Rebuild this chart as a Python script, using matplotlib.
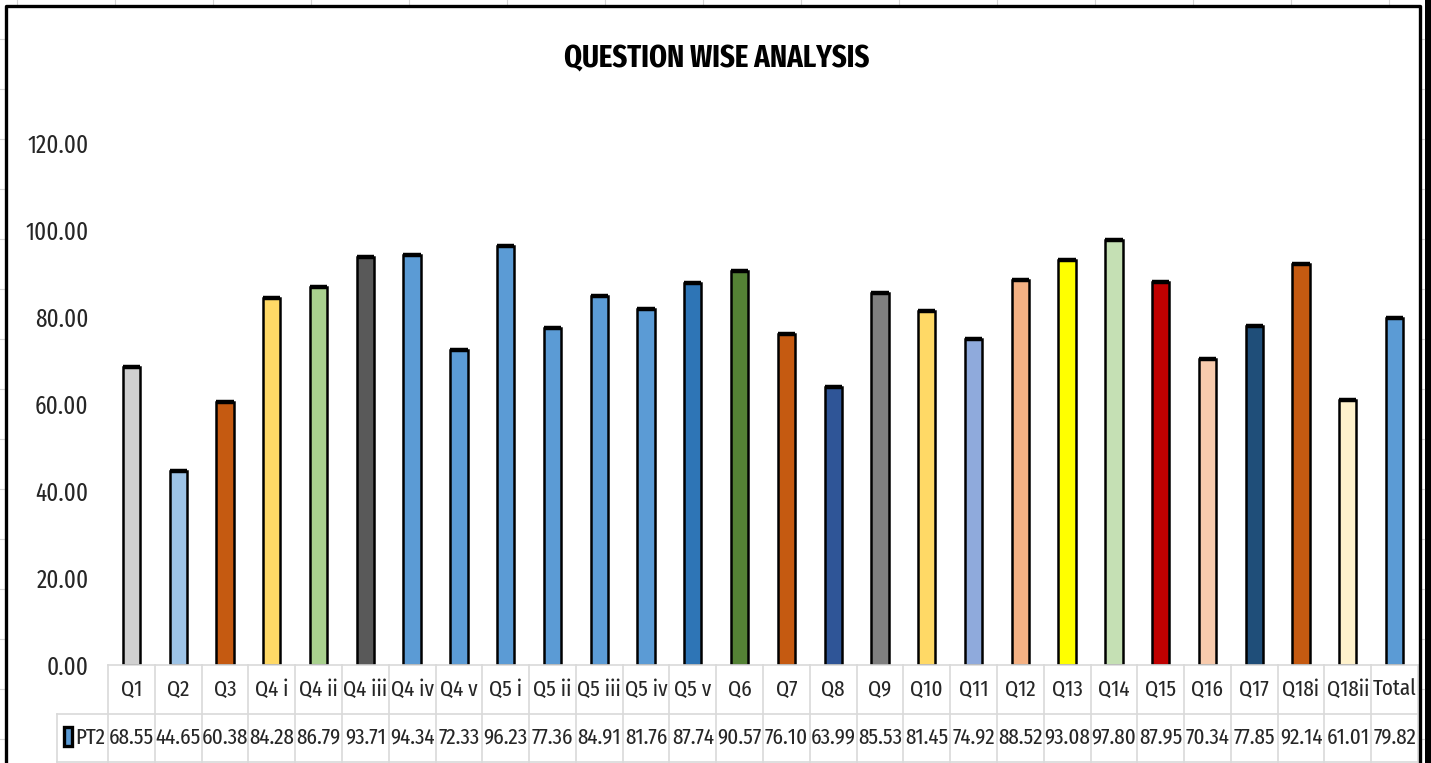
import matplotlib
matplotlib.use("Agg")
import matplotlib.pyplot as plt
from matplotlib.lines import Line2D
from matplotlib.patches import Rectangle

plt.rcParams["font.family"] = ["Fira Sans Extra Condensed", "DejaVu Sans"]

# data
questions = ["Q1", "Q2", "Q3", "Q4 i", "Q4 ii", "Q4 iii", "Q4 iv", "Q4 v", "Q5 i",
             "Q5 ii", "Q5 iii", "Q5 iv", "Q5 v", "Q6", "Q7", "Q8", "Q9", "Q10",
             "Q11", "Q12", "Q13", "Q14", "Q15", "Q16", "Q17", "Q18i", "Q18ii", "Total"]
pt2_scores = [68.55, 44.65, 60.38, 84.28, 86.79, 93.71, 94.34, 72.33, 96.23,
              77.36, 84.91, 81.76, 87.74, 90.57, 76.10, 63.99, 85.53, 81.45,
              74.92, 88.52, 93.08, 97.80, 87.95, 70.34, 77.85, 92.14, 61.01, 79.82]
bar_colors = ["#D0D0D0", "#9DC3E6", "#C55A11", "#FFD966", "#A9D18E", "#595959",
              "#5B9BD5", "#5B9BD5", "#5B9BD5", "#5B9BD5", "#5B9BD5", "#5B9BD5",
              "#2E75B6", "#548235", "#C55A11", "#2F5597", "#7F7F7F", "#FFD966",
              "#8FAADC", "#F4B183", "#FFFF00", "#C5E0B4", "#C00000", "#F8CBAD",
              "#1F4E79", "#C55A11", "#FFF2CC", "#5B9BD5"]
series_name = "PT2"
y_ticks = [0, 20, 40, 60, 80, 100, 120]

W, H = 1431, 763
fig = plt.figure(figsize=(W / 100, H / 100), dpi=100)


def fx(px):
    return px / W


def fy(py):
    return 1 - py / H


# excel sheet grid peeking out around the chart
for gy in range(39, H, 50):
    fig.add_artist(Line2D([0, fx(5)], [fy(gy), fy(gy)], color="#D4D4D4", lw=0.8))
    fig.add_artist(Line2D([fx(1421), fx(1424)], [fy(gy), fy(gy)], color="#D4D4D4", lw=0.8))
for gx in [17, 115, 213, 311, 409, 507, 605, 703, 801, 899, 997, 1095, 1193, 1291, 1389]:
    fig.add_artist(Line2D([fx(gx), fx(gx)], [fy(0), fy(4)], color="#D4D4D4", lw=0.8))

# chart border
fig.add_artist(Line2D([fx(6), fx(6), fx(1420), fx(1420)],
                      [0, fy(6), fy(6), 0], color="black", lw=2.4))
fig.add_artist(Rectangle((fx(1425), 0), fx(6), 1, color="black", lw=0))

# main plot area
n = len(questions)
x = list(range(n))
ax = fig.add_axes([fx(108), fy(665), fx(1418 - 108), fy(143) - fy(665)])
width = 0.37
ax.bar(x, pt2_scores, width=width, color=bar_colors, edgecolor="black", linewidth=1.8,
       zorder=3)
ax.hlines(pt2_scores, [i - width / 2 for i in x], [i + width / 2 for i in x],
          color="black", lw=3.2, zorder=4)
ax.set_xlim(-0.5, n - 0.5)
ax.set_ylim(0, 120)
ax.set_yticks(y_ticks)
ax.set_yticklabels([f"{v:.2f}" for v in y_ticks], fontsize=18, color="#262626")
ax.tick_params(axis="y", length=0, pad=14)
ax.set_xticks([])
for s in ax.spines.values():
    s.set_visible(False)

fig.text(fx(717), fy(59), "QUESTION WISE ANALYSIS", ha="center", va="center",
         fontsize=22.5, fontweight="bold", color="black")

# data table under the bars
row_h = 48
tax = fig.add_axes([fx(108), fy(762), fx(1418 - 108), fy(665) - fy(762)])
tax.set_xlim(-0.5, n - 0.5)
tax.set_ylim(0, 2)
tax.axis("off")
grid_c = "#D9D9D9"
col_w = (1418 - 108) / n
left_edge = -0.5 - (108 - 57) / col_w
tax.plot([-0.5, n - 0.5], [2, 2], color=grid_c, lw=1.2, clip_on=False)
tax.plot([left_edge, n - 0.5], [1, 1], color=grid_c, lw=1.2, clip_on=False)
tax.plot([left_edge, n - 0.5], [0, 0], color=grid_c, lw=1.2, clip_on=False)
tax.plot([left_edge, left_edge], [0, 1], color=grid_c, lw=1.2, clip_on=False)
for i in range(n + 1):
    tax.plot([i - 0.5, i - 0.5], [0, 2], color=grid_c, lw=1.2, clip_on=False)
for i, (q, v) in enumerate(zip(questions, pt2_scores)):
    tax.text(i, 1.5, q, ha="center", va="center", fontsize=16.5, color="#262626")
    tax.text(i, 0.5, f"{v:.2f}", ha="center", va="center", fontsize=16.5, color="#262626")
tax.add_patch(Rectangle((-0.5 + (64 - 108) / col_w, 16 / row_h), 8 / col_w, 19 / row_h,
                        facecolor="#5B9BD5", edgecolor="black", lw=2.4, clip_on=False))
tax.text(-0.5 + (75 - 108) / col_w, 0.5, series_name, ha="left", va="center",
         fontsize=16.5, color="#262626")

fig.savefig("out.png", dpi=100)
